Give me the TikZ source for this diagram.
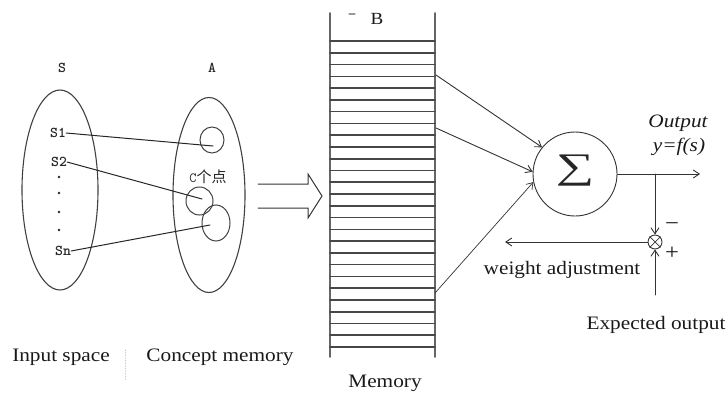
\documentclass[tikz,border=0pt]{standalone}
\usepackage{fontspec}
\setmainfont[FakeStretch=1.12]{Liberation Serif}
\newfontfamily\cjkfont{Noto Sans CJK SC}
\newfontfamily\sigmafont{Liberation Serif}
\usetikzlibrary{arrows.meta,shapes.geometric,calc}

\begin{document}
\begin{tikzpicture}[x=1pt,y=-1pt,line cap=round,
  lbl/.style={font=\fontsize{19}{22}\selectfont,inner sep=0pt,text=black!90},
  ilbl/.style={font=\fontsize{19}{22}\selectfont\itshape,inner sep=0pt,text=black!90},
  setlbl/.style={font=\fontsize{15}{17}\selectfont\ttfamily\bfseries,inner sep=0pt,text=black!85},
  oval/.style={draw=black!75,line width=1.1pt,ellipse,inner sep=0pt},
  link/.style={draw=black!85,line width=1pt},
  memwall/.style={draw=black!60,line width=1.7pt},
  memrung/.style={draw=black!72,line width=1.6pt},
  sig/.style={draw=black!80,line width=0.9pt,-{Straight Barb[length=6pt,width=8pt]}},
  plain/.style={draw=black!80,line width=0.9pt}]
\useasboundingbox (0,0) rectangle (727,396);

% ---- input space S and concept memory A ----
\node[setlbl] (Slbl) at (62,68) {S};
\node[setlbl] (Albl) at (212,68) {A};
\node[oval,minimum width=76pt,minimum height=200pt] (S) at (60,190) {};
\node[oval,minimum width=72pt,minimum height=195pt] (A) at (209,195) {};

\node[setlbl] (s1) at (58,133) {S1};
\node[setlbl] (s2) at (59,162) {S2};
\node[setlbl] (sn) at (63,251) {Sn};
\foreach \yy in {177,193,212,230} \fill[black!85] (59,\yy) circle (1.3);

\node[oval,line width=1pt,minimum width=24pt,minimum height=26pt] (c1) at (212,140) {};
\node[oval,line width=1pt,minimum width=27pt,minimum height=28pt] (c2) at (199.5,201) {};
\node[oval,line width=1pt,minimum width=28pt,minimum height=36pt] (c3) at (216,223) {};
\node[setlbl,font=\fontsize{14}{16}\selectfont\ttfamily] (cpts) at (208,177) {C{\cjkfont\fontsize{15}{17}\selectfont 个点}};

\coordinate (e1) at (213,146);
\coordinate (e2) at (202,199);
\coordinate (e3) at (210,225);
\draw[link] (s1.east) -- (e1);
\draw[link] (s2.east) -- (e2);
\draw[link] (sn.east) -- (e3);

% hollow arrow towards the memory
\draw[plain,line width=1pt,line join=miter]
  (258,184) -- (308,184) -- (308,174) -- (322,196) -- (308,218) -- (308,208) -- (258,208);

\node[lbl] (inspace) at (61,357) {Input space};
\node[lbl] (cmem) at (220,357) {Concept memory};
\draw[black!25,line width=0.6pt,dotted] (125,350) -- (125,380);

% ---- memory stack ----
\draw[memwall] (330,13) -- (330,357);
\draw[memwall] (435,13) -- (435,357);
\foreach \i in {0,...,26} {
  \pgfmathsetmacro{\yy}{41+\i*11.77}
  \draw[memrung] (330,\yy) -- (435,\yy);
}
\draw[black!40,line width=1.2pt] (349,14) -- (355,14);
\node[lbl,font=\fontsize{17}{20}\selectfont] (B) at (377,19) {B};
\node[lbl] (mem) at (385,383) {Memory};

\coordinate (m1) at (436,75);
\coordinate (m2) at (436,128);
\coordinate (m3) at (435,293);

% ---- summing neuron ----
\node[circle,draw=black!80,line width=0.9pt,minimum size=84pt,inner sep=0pt] (sum) at (575,174) {};
\node[inner sep=0pt,xscale=1.5,text=black!85] (sigma) at (575,171)
  {\sigmafont\fontsize{36}{36}\selectfont ∑};

\draw[sig] (m1) -- (sum.141);
\draw[sig] (m2) -- (sum.177);
\draw[sig,line width=0.7pt] (m3) -- (sum.191);

\coordinate (out) at (700,174);
\coordinate (br) at (655,174);
\draw[sig] (sum.east) -- (out);
\node[ilbl] (outlbl) at (678,123) {Output};
\node[ilbl] (ylbl) at (679,147) {y=f(s)};

% ---- comparator and feedback ----
\node[circle,draw=black!80,line width=0.9pt,minimum size=14pt,inner sep=0pt] (cmp) at (655,242) {};
\draw[plain,line width=0.7pt] (cmp.45) -- (cmp.225) (cmp.135) -- (cmp.315);
\draw[sig] (br) -- (cmp.north);
\coordinate (exp) at (655,295);
\draw[sig] (exp) -- (cmp.south);
\coordinate (fb) at (505,242);
\draw[sig] (cmp.west) -- (fb);
\node[lbl,font=\fontsize{22}{24}\selectfont] (minus) at (672,227) {−};
\node[lbl,font=\fontsize{22}{24}\selectfont] (plus) at (672,253) {+};
\node[lbl] (wadj) at (562,270) {weight adjustment};
\node[lbl] (explbl) at (656,325) {Expected output};
\end{tikzpicture}
\end{document}
